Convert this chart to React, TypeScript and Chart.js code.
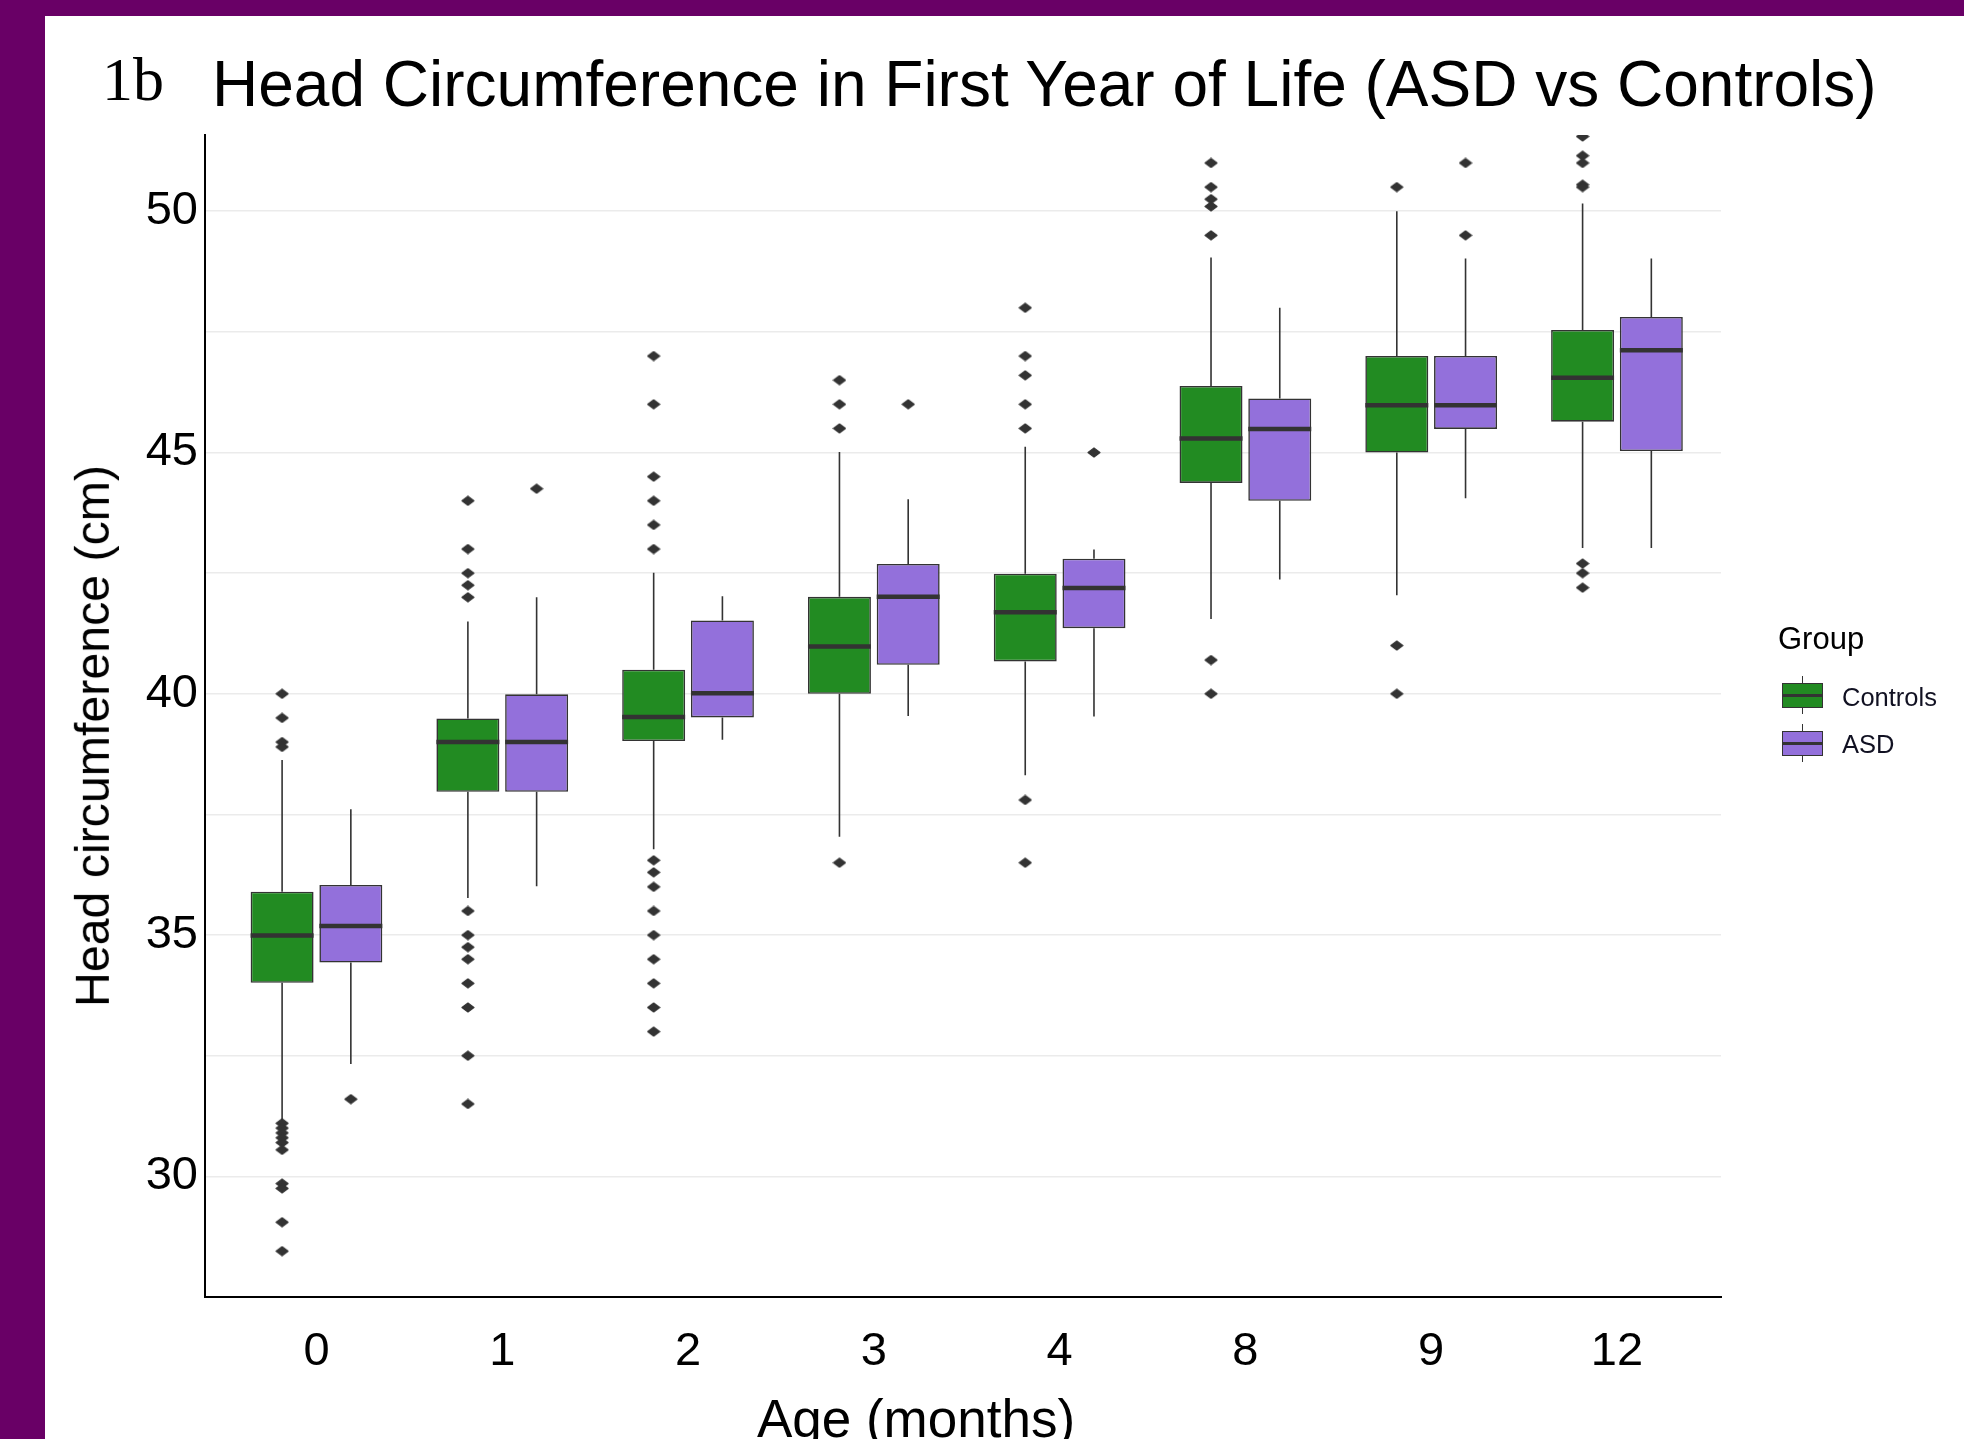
import React, { useEffect, useRef } from 'react';
import { Chart, registerables } from 'chart.js';

Chart.register(...registerables);

// ---------- data ----------
const AGE_LABELS = ['0', '1', '2', '3', '4', '8', '9', '12'];

const CONTROLS_LOW = [31.16, 35.77, 36.78, 37.04, 38.31, 41.55, 42.04, 43.02];
const CONTROLS_Q1 = [34.01, 37.97, 39.02, 40.0, 40.67, 44.37, 45.0, 45.64];
const CONTROLS_MEDIAN = [34.99, 39.0, 39.52, 40.98, 41.69, 45.29, 45.98, 46.55];
const CONTROLS_Q3 = [35.9, 39.49, 40.5, 42.01, 42.49, 46.38, 47.0, 47.54];
const CONTROLS_HIGH = [38.63, 41.5, 42.51, 45.01, 45.12, 49.04, 50.0, 50.16];
const CONTROLS_OUTLIERS = [
  [40.0, 39.5, 39.0, 38.9, 31.1, 31.0, 30.9, 30.8, 30.7, 30.55, 29.85, 29.75, 29.05, 28.45],
  [44.0, 43.0, 42.5, 42.25, 42.0, 35.5, 35.0, 34.75, 34.5, 34.0, 33.5, 32.5, 31.5],
  [47.0, 46.0, 44.5, 44.0, 43.5, 43.0, 36.55, 36.3, 36.0, 35.5, 35.0, 34.5, 34.0, 33.5, 33.0],
  [46.5, 46.0, 45.5, 36.5],
  [48.0, 47.0, 46.6, 46.0, 45.5, 37.8, 36.5],
  [51.0, 50.5, 50.25, 50.1, 49.5, 40.7, 40.0],
  [50.5, 41.0, 40.0],
  [51.55, 51.15, 51.0, 50.55, 50.5, 42.7, 42.5, 42.2],
];

const ASD_LOW = [32.33, 36.01, 39.05, 39.54, 39.53, 42.37, 44.05, 43.02];
const ASD_Q1 = [34.43, 37.97, 39.51, 40.6, 41.36, 44.0, 45.49, 45.03];
const ASD_MEDIAN = [35.19, 39.0, 40.01, 42.01, 42.19, 45.49, 45.98, 47.12];
const ASD_Q3 = [36.04, 39.99, 41.52, 42.69, 42.8, 46.12, 47.0, 47.81];
const ASD_HIGH = [37.61, 42.0, 42.02, 44.03, 42.99, 48.0, 49.02, 49.02];
const ASD_OUTLIERS = [[31.6], [44.25], [], [46.0], [45.0], [], [51.0, 49.5], []];

const Y_MIN = 27.5;
const Y_MAX = 51.58;
const Y_STEP = 2.5;
const Y_LABEL_STEP = 5;

// ---------- style ----------
const SANS = "'Liberation Sans', Arial, Helvetica, sans-serif";
const SERIF = "'Liberation Serif', 'Times New Roman', serif";
const GREEN = '#228B22';
const PURPLE = '#9370DB';
const INK = '#333333';
const FRAME = '#690066';
const GRID = '#ebebeb';

const CAT_PCT = 0.74;
const BAR_PCT = 0.916;
const DODGE = CAT_PCT / 4;
const HALF_BOX = DODGE * BAR_PCT;

type Pt = { x: number; y: number | null };

function boxData(q1: number[], q3: number[]) {
  return q1.map((v, i) => ({ x: i, y: [v, q3[i]] }));
}

function whiskerData(low: number[], q1: number[], q3: number[], high: number[], shift: number): Pt[] {
  const pts: Pt[] = [];
  low.forEach((lo, i) => {
    const x = i + shift;
    pts.push({ x, y: lo }, { x, y: q1[i] }, { x, y: null }, { x, y: q3[i] }, { x, y: high[i] }, { x, y: null });
  });
  return pts;
}

function medianData(med: number[], shift: number): Pt[] {
  const pts: Pt[] = [];
  med.forEach((m, i) => {
    const x = i + shift;
    pts.push({ x: x - HALF_BOX, y: m }, { x: x + HALF_BOX, y: m }, { x, y: null });
  });
  return pts;
}

function outlierData(outs: number[][], shift: number): Pt[] {
  const pts: Pt[] = [];
  outs.forEach((list, i) => list.forEach((v) => pts.push({ x: i + shift, y: v })));
  return pts;
}

function makeOutlierGlyph(): HTMLCanvasElement {
  const c = document.createElement('canvas');
  c.width = 14;
  c.height = 11;
  const ctx = c.getContext('2d')!;
  ctx.fillStyle = INK;
  ctx.strokeStyle = INK;
  ctx.lineJoin = 'round';
  ctx.lineWidth = 1.2;
  ctx.beginPath();
  ctx.moveTo(1, 5.5);
  ctx.lineTo(7, 1);
  ctx.lineTo(13, 5.5);
  ctx.lineTo(7, 10);
  ctx.closePath();
  ctx.fill();
  ctx.stroke();
  return c;
}

function LegendKey({ top, color }: { top: number; color: string }) {
  return (
    <>
      <div style={{ position: 'absolute', left: 1801.7, top: top - 7, width: 1.6, height: 25 + 13, background: INK }} />
      <div
        style={{
          position: 'absolute',
          left: 1782,
          top,
          width: 41,
          height: 25,
          boxSizing: 'border-box',
          border: `1.6px solid ${INK}`,
          background: color,
        }}
      />
      <div style={{ position: 'absolute', left: 1782, top: top + 11.3, width: 41, height: 2.4, background: INK }} />
    </>
  );
}

export default function App() {
  const ref = useRef<HTMLCanvasElement>(null);

  useEffect(() => {
    const canvas = ref.current;
    if (!canvas) return;
    const glyph = makeOutlierGlyph();
    const tickFont = { family: SANS, size: 47 };

    const chart = new Chart(canvas, {
      type: 'bar',
      data: {
        datasets: [
          {
            type: 'line',
            label: 'Controls whiskers',
            data: whiskerData(CONTROLS_LOW, CONTROLS_Q1, CONTROLS_Q3, CONTROLS_HIGH, -DODGE),
            borderColor: INK,
            borderWidth: 1.6,
            pointRadius: 0,
            spanGaps: false,
            order: 4,
          },
          {
            type: 'line',
            label: 'ASD whiskers',
            data: whiskerData(ASD_LOW, ASD_Q1, ASD_Q3, ASD_HIGH, DODGE),
            borderColor: INK,
            borderWidth: 1.6,
            pointRadius: 0,
            spanGaps: false,
            order: 4,
          },
          {
            type: 'bar',
            label: 'Controls',
            data: boxData(CONTROLS_Q1, CONTROLS_Q3),
            backgroundColor: GREEN,
            borderColor: INK,
            borderWidth: 1.6,
            borderSkipped: false,
            categoryPercentage: CAT_PCT,
            barPercentage: BAR_PCT,
            order: 3,
          },
          {
            type: 'bar',
            label: 'ASD',
            data: boxData(ASD_Q1, ASD_Q3),
            backgroundColor: PURPLE,
            borderColor: INK,
            borderWidth: 1.6,
            borderSkipped: false,
            categoryPercentage: CAT_PCT,
            barPercentage: BAR_PCT,
            order: 3,
          },
          {
            type: 'line',
            label: 'Controls median',
            data: medianData(CONTROLS_MEDIAN, -DODGE),
            borderColor: INK,
            borderWidth: 4.5,
            borderCapStyle: 'butt',
            pointRadius: 0,
            spanGaps: false,
            order: 2,
          },
          {
            type: 'line',
            label: 'ASD median',
            data: medianData(ASD_MEDIAN, DODGE),
            borderColor: INK,
            borderWidth: 4.5,
            borderCapStyle: 'butt',
            pointRadius: 0,
            spanGaps: false,
            order: 2,
          },
          {
            type: 'line',
            label: 'Controls outliers',
            data: outlierData(CONTROLS_OUTLIERS, -DODGE),
            showLine: false,
            pointStyle: glyph,
            pointRadius: 6,
            order: 1,
          },
          {
            type: 'line',
            label: 'ASD outliers',
            data: outlierData(ASD_OUTLIERS, DODGE),
            showLine: false,
            pointStyle: glyph,
            pointRadius: 6,
            order: 1,
          },
        ] as any,
      },
      options: {
        responsive: false,
        animation: false,
        devicePixelRatio: 1,
        events: [],
        layout: { padding: { left: 105, right: 243, top: 135, bottom: 62 } },
        plugins: {
          legend: { display: false },
          tooltip: { enabled: false },
          title: { display: false },
        },
        scales: {
          x: {
            type: 'linear',
            min: -0.6,
            max: 7.56,
            offset: false,
            grid: { display: false, drawTicks: false, offset: false },
            border: { display: true, color: '#000', width: 2 },
            ticks: {
              stepSize: 1,
              includeBounds: false,
              autoSkip: false,
              maxRotation: 0,
              padding: 27,
              font: tickFont,
              color: '#000',
              callback: (v: any) => {
                const i = Math.round(Number(v));
                return Math.abs(Number(v) - i) < 1e-6 && AGE_LABELS[i] !== undefined ? AGE_LABELS[i] : '';
              },
            },
            afterFit: (s: any) => {
              s.height = 80;
            },
          },
          y: {
            type: 'linear',
            min: Y_MIN,
            max: Y_MAX,
            grid: { color: GRID, lineWidth: 1.6, drawTicks: false },
            border: { display: true, color: '#000', width: 2 },
            ticks: {
              stepSize: Y_STEP,
              includeBounds: false,
              padding: 7,
              font: tickFont,
              color: '#000',
              callback: (v: any) => {
                const n = Number(v);
                return Math.abs(n / Y_LABEL_STEP - Math.round(n / Y_LABEL_STEP)) < 1e-6 ? String(n) : '';
              },
            },
            afterFit: (s: any) => {
              s.width = 100;
            },
          },
        } as any,
      },
    });
    return () => chart.destroy();
  }, []);

  const text = (extra: React.CSSProperties): React.CSSProperties => ({
    position: 'absolute',
    whiteSpace: 'nowrap',
    lineHeight: 1,
    color: '#000',
    fontFamily: SANS,
    ...extra,
  });

  return (
    <div style={{ position: 'absolute', left: 0, top: 0, width: 1964, height: 1439, overflow: 'hidden', background: FRAME }}>
      <div style={{ position: 'absolute', left: 45, top: 16, right: 0, bottom: 0, background: '#ffffff' }} />
      <canvas
        ref={ref}
        width={1964}
        height={1439}
        style={{ position: 'absolute', left: 0, top: 0, width: 1964, height: 1439 }}
      />
      <div style={text({ left: 102, top: 48, fontFamily: SERIF, fontSize: 62 })}>1b</div>
      <div style={text({ left: 212, top: 52, fontSize: 64 })}>
        Head Circumference in First Year of Life (ASD vs Controls)
      </div>
      <div style={{ position: 'absolute', left: 91.5, top: 736, width: 0, height: 0 }}>
        <div style={text({ left: 0, top: 0, fontSize: 48.3, transform: 'translate(-50%, -50%) rotate(-90deg)' })}>
          Head circumference (cm)
        </div>
      </div>
      <div style={text({ left: 916, top: 1392, fontSize: 53, transform: 'translateX(-50%)' })}>Age (months)</div>

      <div style={text({ left: 1778, top: 623, fontSize: 31 })}>Group</div>
      <LegendKey top={683} color={GREEN} />
      <LegendKey top={731} color={PURPLE} />
      <div style={text({ left: 1842, top: 685, fontSize: 25.5, color: '#111122' })}>Controls</div>
      <div style={text({ left: 1842, top: 731.5, fontSize: 25.5, color: '#111122' })}>ASD</div>
    </div>
  );
}
